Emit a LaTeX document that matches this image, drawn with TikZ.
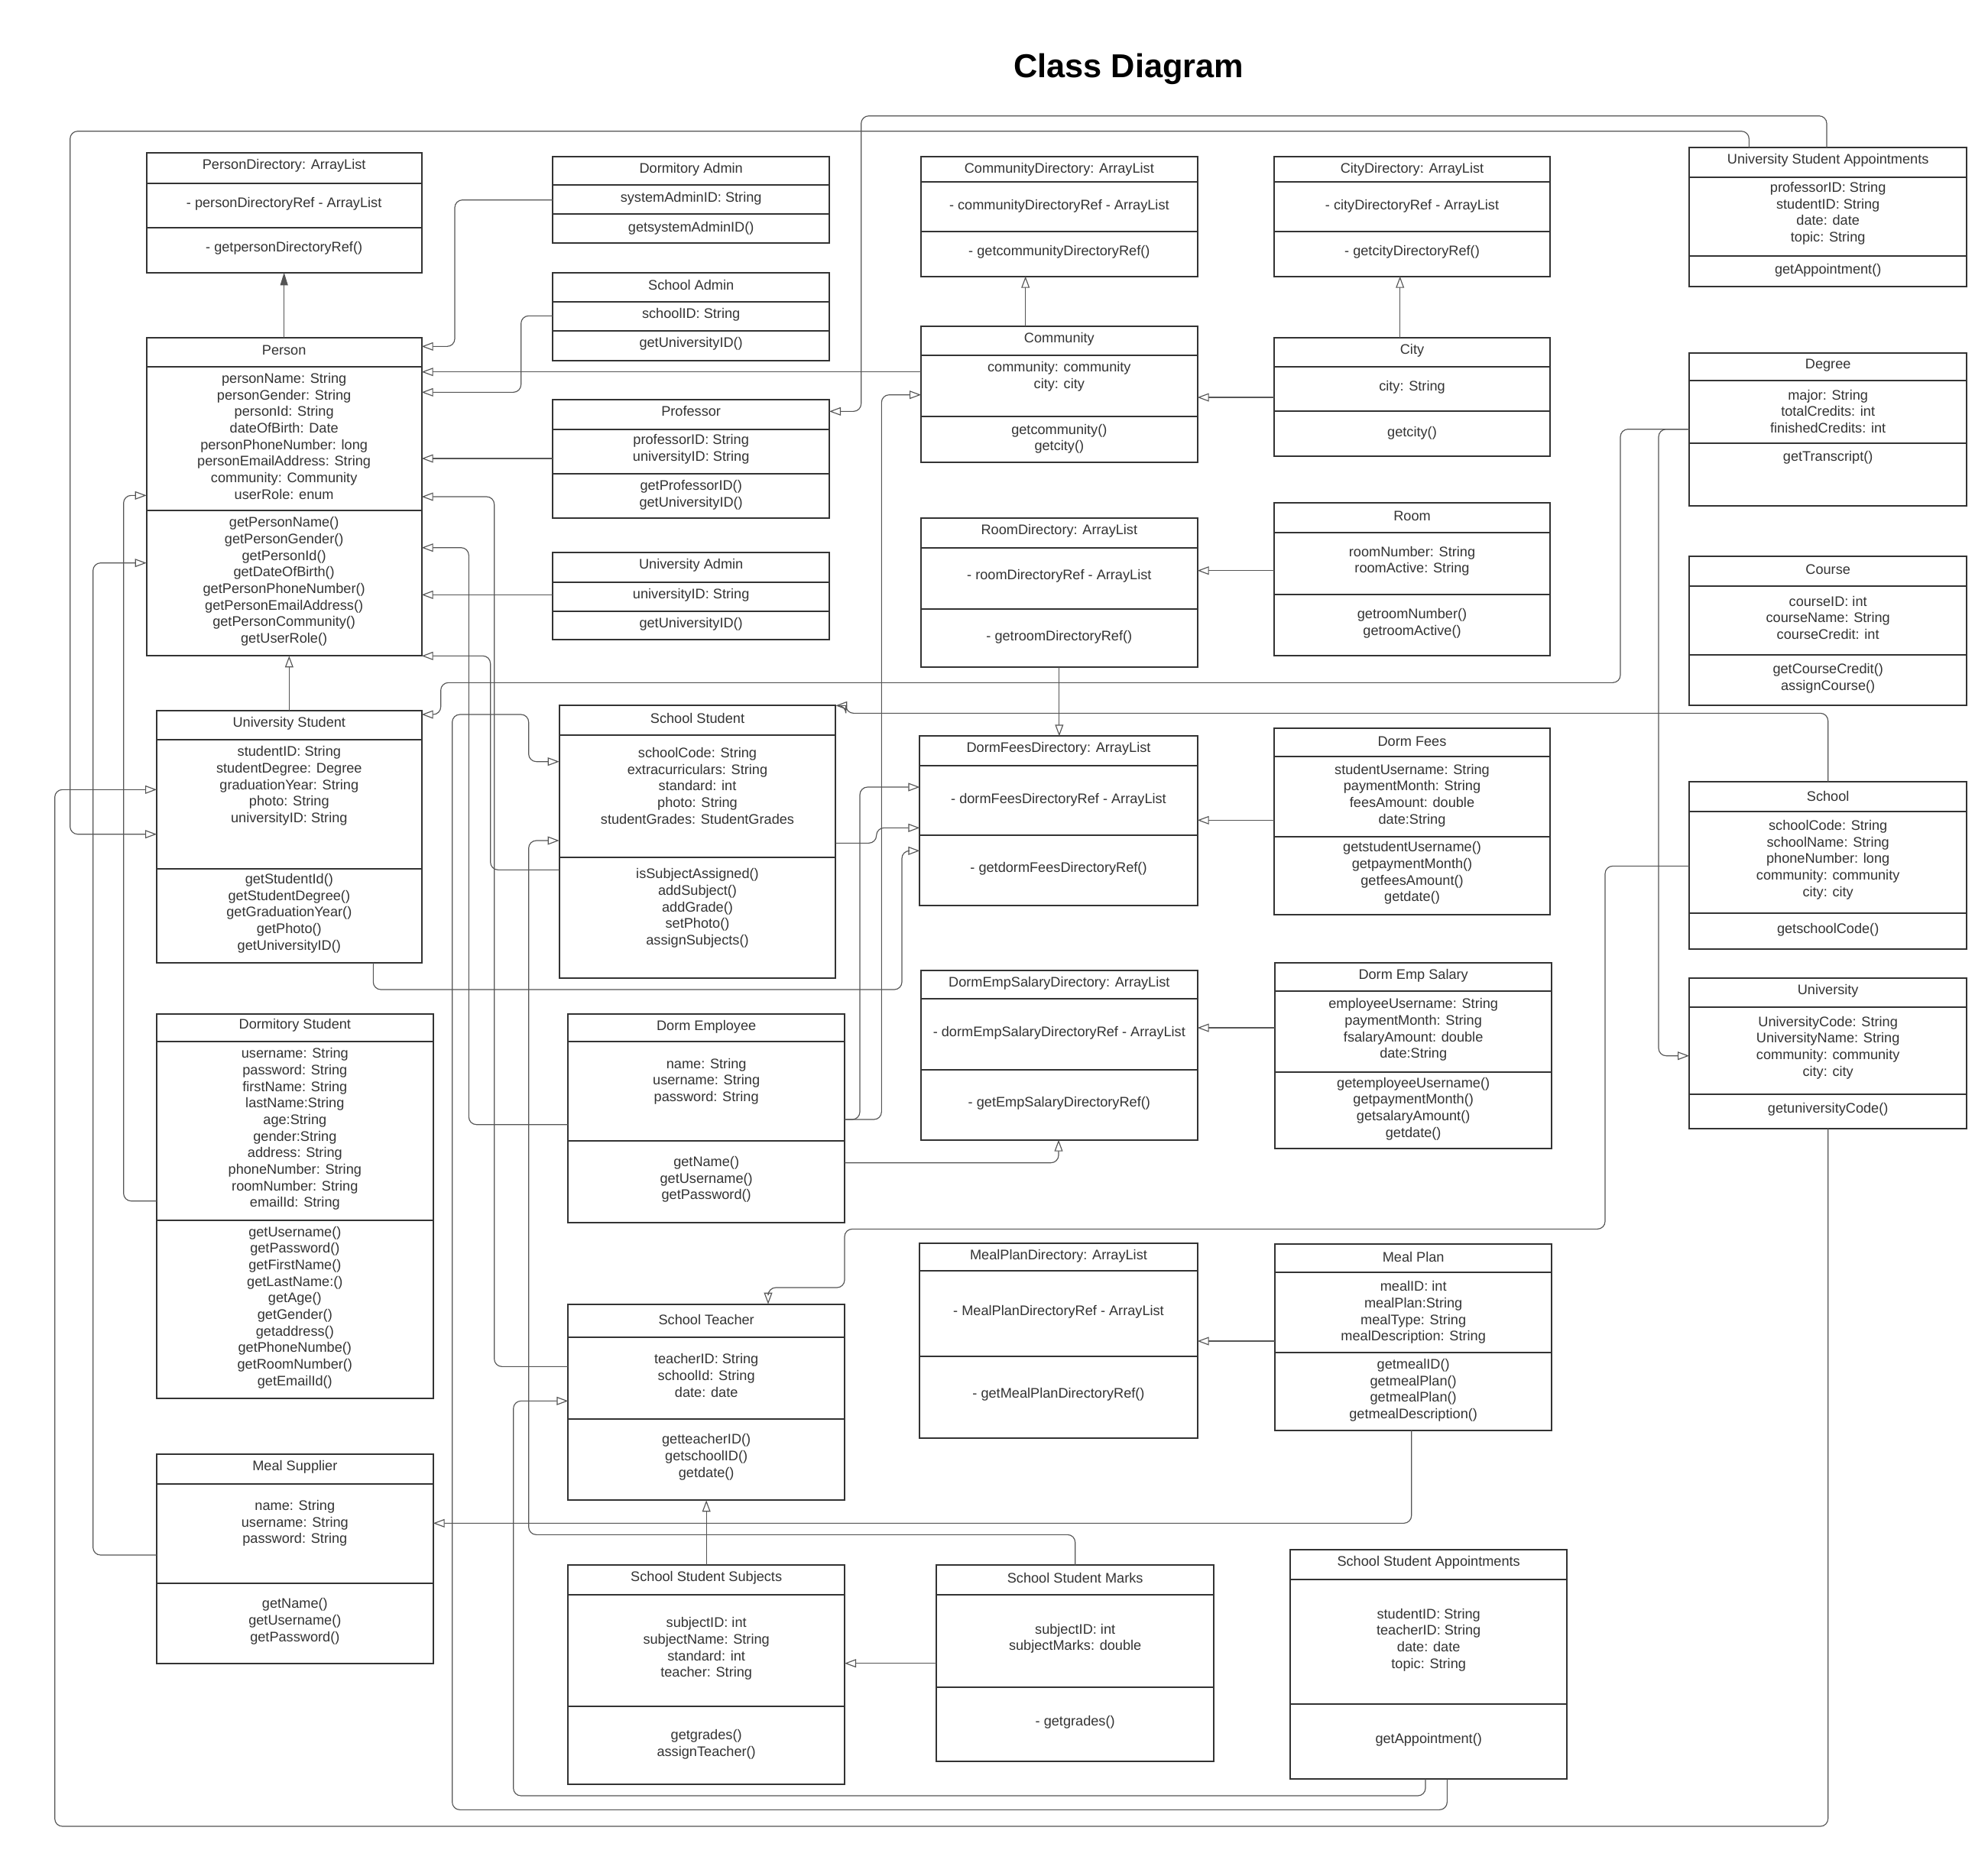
\documentclass[tikz,border=0pt]{standalone}
\usepackage{fontspec}
\setmainfont{Liberation Sans}
\usetikzlibrary{arrows.meta}
\definecolor{bx}{HTML}{333333}
\definecolor{cn}{HTML}{555555}
\tikzset{
  clsbox/.style={draw=bx, line width=1.2pt, fill=white, inner sep=0pt, outer sep=0pt, rectangle},
  divline/.style={draw=bx, line width=1.2pt},
  txt/.style={font=\fontsize{10.9}{13}\selectfont, text=bx, align=center, inner sep=0pt},
  inh/.style={draw=cn, line width=0.7pt, rounded corners=6pt, -{Triangle[open, length=9pt, width=6.5pt]}},
  assoc/.style={draw=cn, line width=0.7pt, -{Triangle[length=10pt, width=6pt]}},
}
\newcommand{\umlcls}[6]{%
  \node[clsbox, minimum width={(#4)-(#2)}, minimum height={(#5)-(#3)}] (#1) at ({((#2)+(#4))/2},{((#3)+(#5))/2}) {};
  \foreach \dd in {#6} {\draw[divline] (#2,\dd) -- (#4,\dd);}
}
\newcommand{\ct}[4]{\node[txt] (#1-#2) at (#1.center |- 0,#3) {#4};}
\begin{document}
\begin{tikzpicture}[x=1pt,y=-1pt]
\useasboundingbox (0,0) rectangle (1560.6,1452);
\node[font=\fontsize{26}{30}\selectfont\bfseries, text=black] (title) at (886,54) {Class Diagram};

% ---------- boxes ----------
\umlcls{pd}{115}{120}{331}{214}{144,179}
\ct{pd}{h}{130}{PersonDirectory: ArrayList}
\ct{pd}{a}{160}{- personDirectoryRef - ArrayList}
\ct{pd}{m}{195}{- getpersonDirectoryRef()}

\umlcls{da}{434}{123}{651}{191}{145,168}
\ct{da}{h}{133}{Dormitory Admin}
\ct{da}{a}{156}{systemAdminID: String}
\ct{da}{m}{179}{getsystemAdminID()}

\umlcls{sa}{434}{214}{651}{283}{237,260}
\ct{sa}{h}{224}{School Admin}
\ct{sa}{a}{247}{schoolID: String}
\ct{sa}{m}{270}{getUniversityID()}

\umlcls{person}{115}{265}{331}{515}{288,401}
\ct{person}{h}{275}{Person}
\ct{person}{a}{342.5}{personName: String\\personGender: String\\personId: String\\dateOfBirth: Date\\personPhoneNumber: long\\personEmailAddress: String\\community: Community\\userRole: enum}
\ct{person}{m}{456.5}{getPersonName()\\getPersonGender()\\getPersonId()\\getDateOfBirth()\\getPersonPhoneNumber()\\getPersonEmailAddress()\\getPersonCommunity()\\getUserRole()}

\umlcls{prof}{434}{314}{651}{407}{337,372}
\ct{prof}{h}{323}{Professor}
\ct{prof}{a}{352.5}{professorID: String\\universityID: String}
\ct{prof}{m}{388.5}{getProfessorID()\\getUniversityID()}

\umlcls{ua}{434}{434}{651}{502}{457,480}
\ct{ua}{h}{444}{University Admin}
\ct{ua}{a}{467}{universityID: String}
\ct{ua}{m}{490}{getUniversityID()}

\umlcls{cd}{723}{123}{940}{217}{143,182}
\ct{cd}{h}{133}{CommunityDirectory: ArrayList}
\ct{cd}{a}{162}{- communityDirectoryRef - ArrayList}
\ct{cd}{m}{198}{- getcommunityDirectoryRef()}

\umlcls{cyd}{1000}{123}{1217}{217}{143,182}
\ct{cyd}{h}{133}{CityDirectory: ArrayList}
\ct{cyd}{a}{162}{- cityDirectoryRef - ArrayList}
\ct{cyd}{m}{198}{- getcityDirectoryRef()}

\umlcls{usa}{1326}{116}{1544}{225}{139,201}
\ct{usa}{h}{126}{University Student Appointments}
\ct{usa}{a}{167.5}{professorID: String\\studentID: String\\date: date\\topic: String}
\ct{usa}{m}{212}{getAppointment()}

\umlcls{comm}{723}{256}{940}{363}{279,327}
\ct{comm}{h}{266}{Community}
\ct{comm}{a}{295.5}{community: community\\city: city}
\ct{comm}{m}{344.5}{getcommunity()\\getcity()}

\umlcls{city}{1000}{265}{1217}{358}{288,323}
\ct{city}{h}{275}{City}
\ct{city}{a}{304}{city: String}
\ct{city}{m}{340}{getcity()}

\umlcls{deg}{1326}{277}{1544}{397}{299,348}
\ct{deg}{h}{287}{Degree}
\ct{deg}{a}{323}{major: String\\totalCredits: int\\finishedCredits: int}
\ct{deg}{m}{359}{getTranscript()}

\umlcls{rd}{723}{407}{940}{524}{430,478}
\ct{rd}{h}{417}{RoomDirectory: ArrayList}
\ct{rd}{a}{452}{- roomDirectoryRef - ArrayList}
\ct{rd}{m}{500}{- getroomDirectoryRef()}

\umlcls{room}{1000}{395}{1217}{515}{418,467}
\ct{room}{h}{405}{Room}
\ct{room}{a}{440.5}{roomNumber: String\\roomActive: String}
\ct{room}{m}{489.5}{getroomNumber()\\getroomActive()}

\umlcls{course}{1326}{437}{1544}{554}{460,514}
\ct{course}{h}{447}{Course}
\ct{course}{a}{485}{courseID: int\\courseName: String\\courseCredit: int}
\ct{course}{m}{532.5}{getCourseCredit()\\assignCourse()}

\umlcls{us}{123}{558}{331}{756}{581,682}
\ct{us}{h}{568}{University Student}
\ct{us}{a}{617}{studentID: String\\studentDegree: Degree\\graduationYear: String\\photo: String\\universityID: String}
\ct{us}{m}{717}{getStudentId()\\getStudentDegree()\\getGraduationYear()\\getPhoto()\\getUniversityID()}

\umlcls{ss}{439}{554}{656}{768}{577,673}
\ct{ss}{h}{564}{School Student}
\ct{ss}{a}{617}{schoolCode: String\\extracurriculars: String\\standard: int\\photo: String\\studentGrades: StudentGrades}
\ct{ss}{m}{713}{isSubjectAssigned()\\addSubject()\\addGrade()\\setPhoto()\\assignSubjects()}

\umlcls{dfd}{722}{578}{940}{711}{601,656}
\ct{dfd}{h}{588}{DormFeesDirectory: ArrayList}
\ct{dfd}{a}{628}{- dormFeesDirectoryRef - ArrayList}
\ct{dfd}{m}{682}{- getdormFeesDirectoryRef()}

\umlcls{df}{1000}{572}{1217}{718}{594,657}
\ct{df}{h}{582}{Dorm Fees}
\ct{df}{a}{624.5}{studentUsername: String\\paymentMonth: String\\feesAmount: double\\date:String}
\ct{df}{m}{685.5}{getstudentUsername()\\getpaymentMonth()\\getfeesAmount()\\getdate()}

\umlcls{school}{1326}{614}{1544}{745}{637,717}
\ct{school}{h}{625}{School}
\ct{school}{a}{675}{schoolCode: String\\schoolName: String\\phoneNumber: long\\community: community\\city: city}
\ct{school}{m}{730}{getschoolCode()}

\umlcls{ds}{123}{796}{340}{1098}{818,958}
\ct{ds}{h}{805}{Dormitory Student}
\ct{ds}{a}{886.5}{username: String\\password: String\\firstName: String\\lastName:String\\age:String\\gender:String\\address: String\\phoneNumber: String\\roomNumber: String\\emailId: String}
\ct{ds}{m}{1026.5}{getUsername()\\getPassword()\\getFirstName()\\getLastName:()\\getAge()\\getGender()\\getaddress()\\getPhoneNumbe()\\getRoomNumber()\\getEmailId()}

\umlcls{de}{446}{796}{663}{960}{818,896}
\ct{de}{h}{806}{Dorm Employee}
\ct{de}{a}{849}{name: String\\username: String\\password: String}
\ct{de}{m}{926}{getName()\\getUsername()\\getPassword()}

\umlcls{desd}{723}{762}{940}{895}{784,840}
\ct{desd}{h}{772}{DormEmpSalaryDirectory: ArrayList}
\ct{desd}{a}{811}{- dormEmpSalaryDirectoryRef - ArrayList}
\ct{desd}{m}{866}{- getEmpSalaryDirectoryRef()}

\umlcls{des}{1001}{756}{1218}{902}{778,842}
\ct{des}{h}{766}{Dorm Emp Salary}
\ct{des}{a}{808.5}{employeeUsername: String\\paymentMonth: String\\fsalaryAmount: double\\date:String}
\ct{des}{m}{870.5}{getemployeeUsername()\\getpaymentMonth()\\getsalaryAmount()\\getdate()}

\umlcls{univ}{1326}{768}{1544}{886}{791,859}
\ct{univ}{h}{778}{University}
\ct{univ}{a}{822.5}{UniversityCode: String\\UniversityName: String\\community: community\\city: city}
\ct{univ}{m}{871}{getuniversityCode()}

\umlcls{mpd}{722}{976}{940}{1129}{998,1065}
\ct{mpd}{h}{986}{MealPlanDirectory: ArrayList}
\ct{mpd}{a}{1030}{- MealPlanDirectoryRef - ArrayList}
\ct{mpd}{m}{1095}{- getMealPlanDirectoryRef()}

\umlcls{mp}{1001}{977}{1218}{1123}{999,1062}
\ct{mp}{h}{987}{Meal Plan}
\ct{mp}{a}{1030.5}{mealID: int\\mealPlan:String\\mealType: String\\mealDescription: String}
\ct{mp}{m}{1091.5}{getmealID()\\getmealPlan()\\getmealPlan()\\getmealDescription()}

\umlcls{st}{446}{1024}{663}{1178}{1050,1114}
\ct{st}{h}{1036}{School Teacher}
\ct{st}{a}{1080}{teacherID: String\\schoolId: String\\date: date}
\ct{st}{m}{1144}{getteacherID()\\getschoolID()\\getdate()}

\umlcls{ms}{123}{1142}{340}{1306}{1165,1243}
\ct{ms}{h}{1152}{Meal Supplier}
\ct{ms}{a}{1196}{name: String\\username: String\\password: String}
\ct{ms}{m}{1273}{getName()\\getUsername()\\getPassword()}

\umlcls{sss}{446}{1229}{663}{1401}{1252,1340}
\ct{sss}{h}{1239}{School Student Subjects}
\ct{sss}{a}{1294.5}{subjectID: int\\subjectName: String\\standard: int\\teacher: String}
\ct{sss}{m}{1369.5}{getgrades()\\assignTeacher()}

\umlcls{ssm}{735}{1229}{953}{1383}{1252,1325}
\ct{ssm}{h}{1239}{School Student Marks}
\ct{ssm}{a}{1286.5}{subjectID: int\\subjectMarks: double}
\ct{ssm}{m}{1352}{- getgrades()}

\umlcls{ssa}{1013}{1217}{1230}{1397}{1240,1338}
\ct{ssa}{h}{1227}{School Student Appointments}
\ct{ssa}{a}{1287.5}{studentID: String\\teacherID: String\\date: date\\topic: String}
\ct{ssa}{m}{1366}{getAppointment()}

% ---------- connectors ----------
\draw[assoc] (person.north) -- (pd.south);
\draw[inh] (da.west |- 0,157) -- (357,157) -- (357,272) -- (person.east |- 0,272);
\draw[inh] (sa.west |- 0,248) -- (409,248) -- (409,308) -- (person.east |- 0,308);
\draw[inh] (comm.west |- 0,292) -- (person.east |- 0,292);
\draw[inh] (prof.west |- 0,360) -- (person.east |- 0,360);
\draw[inh] (ua.west |- 0,467) -- (person.east |- 0,467);
\draw[inh] (st.west |- 0,1073) -- (388,1073) -- (388,390) -- (person.east |- 0,390);
\draw[inh] (de.west |- 0,883) -- (368,883) -- (368,430) -- (person.east |- 0,430);
\draw[inh] (ss.west |- 0,683) -- (385,683) -- (385,515) -- (person.south east);
\draw[inh] (us.north) -- (us.north |- person.south);
\draw[inh] (ds.west |- 0,943) -- (97,943) -- (97,389) -- (person.west |- 0,389);
\draw[inh] (ms.west |- 0,1221) -- (73,1221) -- (73,442) -- (person.west |- 0,442);
\draw[inh] (1373,0 |- usa.north) -- (1373,103) -- (55,103) -- (55,655) -- (us.west |- 0,655);
\draw[inh] (1434,0 |- usa.north) -- (1434,91) -- (676,91) -- (676,323) -- (prof.east |- 0,323);
\draw[inh] (deg.west |- 0,337) -- (1272,337) -- (1272,536) -- (346,536) -- (346,561) -- (us.east |- 0,561);
\draw[inh] (deg.west |- 0,337) -- (1302,337) -- (1302,829) -- (univ.west |- 0,829);
\draw[inh] (school.north) -- (1435,560) -- (664,560) -- (664,554) -- (ss.north east);
\draw[inh] (school.west |- 0,680) -- (1260,680) -- (1260,965) -- (663,965) -- (663,1011) -- (603,1011) -- (603,0 |- st.north);
\draw[inh] (univ.south) -- (1435,1434) -- (43,1434) -- (43,620) -- (us.west |- 0,620);
\draw[inh] (1119,0 |- ssa.south) -- (1119,1410) -- (403,1410) -- (403,1100) -- (st.west |- 0,1100);
\draw[inh] (1136,0 |- ssa.south) -- (1136,1421) -- (355,1421) -- (355,561) -- (415,561) -- (415,598) -- (ss.west |- 0,598);
\draw[inh] (844,0 |- ssm.north) -- (844,1205) -- (415,1205) -- (415,660) -- (ss.west |- 0,660);
\draw[inh] (805,0 |- comm.north) -- (805,0 |- cd.south);
\draw[inh] (1099,0 |- city.north) -- (1099,0 |- cyd.south);
\draw[inh] (city.west |- 0,312) -- (comm.east |- 0,312);
\draw[inh] (room.west |- 0,448) -- (rd.east |- 0,448);
\draw[inh] (rd.south) -- (rd.south |- dfd.north);
\draw[inh] (df.west |- 0,644) -- (dfd.east |- 0,644);
\draw[inh] (des.west |- 0,807) -- (desd.east |- 0,807);
\draw[inh] (mp.west |- 0,1053) -- (mpd.east |- 0,1053);
\draw[inh] (1108,0 |- mp.south) -- (1108,1196) -- (ms.east |- 0,1196);
\draw[inh] (sss.north) -- (sss.north |- st.south);
\draw[inh] (ssm.west |- 0,1306) -- (sss.east |- 0,1306);
\draw[inh] (de.east |- 0,913) -- (831,913) -- (831,0 |- desd.south);
\draw[inh] (de.east |- 0,879) -- (692,879) -- (692,310) -- (comm.west |- 0,310);
\draw[inh] (de.east |- 0,879) -- (675,879) -- (675,618) -- (dfd.west |- 0,618);
\draw[inh] (ss.east |- 0,662) -- (688,662) -- (688,650) -- (dfd.west |- 0,650);
\draw[inh] (293,0 |- us.south) -- (293,777) -- (708,777) -- (708,668) -- (dfd.west |- 0,668);
\end{tikzpicture}
\end{document}
